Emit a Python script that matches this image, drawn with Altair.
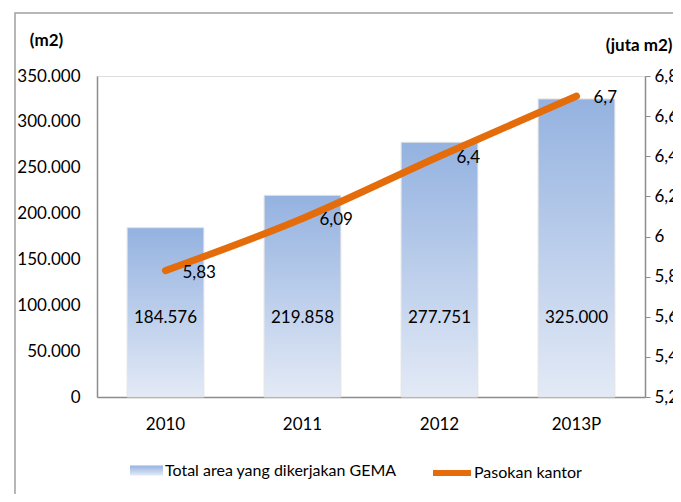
import altair as alt
import pandas as pd

years = ["2010", "2011", "2012", "2013P"]
area = [184576, 219858, 277751, 325000]
supply = [5.83, 6.09, 6.4, 6.7]
left_ticks = [0, 50000, 100000, 150000, 200000, 250000, 300000, 350000]
right_ticks = [5.2, 5.4, 5.6, 5.8, 6.0, 6.2, 6.4, 6.6, 6.8]
bar_name = "Total area yang dikerjakan GEMA"
line_name = "Pasokan kantor"

df = pd.DataFrame({
    "year": years,
    "area": area,
    "supply": supply,
    "s1": [bar_name] * len(years),
    "s2": [line_name] * len(years),
})

FONT = "Lato"
GRAY = "#8C8C8C"

base = alt.Chart(df).transform_calculate(
    area_lbl="replace(format(datum.area, ','), ',', '.')",
    supply_lbl="replace(format(datum.supply, '.2~f'), '.', ',')",
).encode(
    x=alt.X("year:N", sort=years,
            scale=alt.Scale(paddingInner=0.44, paddingOuter=0.22),
            axis=alt.Axis(title=None, labelAngle=0, ticks=False, domainColor=GRAY,
                          domainWidth=1.5, labelPadding=19, labelFontSize=17,
                          labelColor="black", labelFont=FONT))
)

gradient = alt.LinearGradient(
    gradient="linear",
    stops=[alt.GradientStop(color="#94B2E0", offset=0),
           alt.GradientStop(color="#E3EAF6", offset=1)],
    x1=1, x2=1, y1=0, y2=1,
)

left_axis = alt.Axis(
    values=left_ticks, labelExpr="replace(format(datum.value, ','), ',', '.')",
    ticks=False, domainColor=GRAY, domainWidth=1.5, labelPadding=17, grid=False,
    labelFontSize=17, labelColor="black", labelFont=FONT,
    title="(m2)", titleAngle=0, titleX=-51, titleY=-36, titleAlign="center",
    titleBaseline="middle", titleFontWeight="bold", titleFontSize=17,
    titleFont=FONT, titleColor="black",
)

bars = base.mark_bar(fill=gradient, stroke="#E2E2E2", strokeWidth=1).encode(
    y=alt.Y("area:Q", scale=alt.Scale(domain=[0, 350000], nice=False), axis=left_axis),
    opacity=alt.Opacity("s1:N", scale=alt.Scale(range=[1]),
                        legend=alt.Legend(orient="none", legendX=33, legendY=378,
                                          title=None, symbolType="M-1,-0.3H1V0.3H-1Z",
                                          symbolSize=1089, symbolFillColor="#C9D8F0",
                                          symbolStrokeColor="#C9D8F0", symbolStrokeWidth=0,
                                          labelFontSize=16, labelFont=FONT, labelLimit=0,
                                          labelColor="black", labelOffset=2, padding=0)),
)

bar_labels = base.mark_text(fontSize=17, font=FONT, color="black", baseline="middle").encode(
    y=alt.datum(86000),
    text="area_lbl:N",
)

right_axis = alt.Axis(
    orient="right", values=right_ticks,
    labelExpr="replace(format(datum.value, '.2~f'), '.', ',')",
    ticks=True, tickSize=5, tickColor=GRAY, domainColor=GRAY, domainWidth=1.5,
    labelPadding=4, grid=False, labelFontSize=17, labelColor="black", labelFont=FONT,
    title="(juta m2)", titleAngle=0, titleX=27, titleY=-31, titleAlign="right",
    titleBaseline="middle", titleFontWeight="bold", titleFontSize=17,
    titleFont=FONT, titleColor="black",
)

line = base.mark_line(strokeWidth=7, interpolate="monotone", strokeCap="round").encode(
    y=alt.Y("supply:Q", scale=alt.Scale(domain=[5.2, 6.8], nice=False, zero=False),
            axis=right_axis),
    color=alt.Color("s2:N", scale=alt.Scale(range=["#E46C0A"]),
                    legend=alt.Legend(orient="none", legendX=333, legendY=375,
                                      title=None, symbolType="stroke", symbolSize=1444,
                                      symbolStrokeWidth=6, labelFontSize=16,
                                      labelFont=FONT, labelColor="black", labelLimit=0,
                                      labelOffset=0, padding=0)),
)

line_labels = base.mark_text(align="left", dx=17, dy=2, fontSize=17, font=FONT,
                             color="black", baseline="middle").encode(
    y=alt.Y("supply:Q"),
    text="supply_lbl:N",
)

frame = alt.Chart(alt.Data(values=[{"a": 1}])).mark_rect(
    fillOpacity=0, stroke="#A0A0A0", strokeWidth=1.5
).encode(
    x=alt.value(-82), x2=alt.value(640), y=alt.value(-63), y2=alt.value(460)
)

chart = alt.layer(
    frame,
    alt.layer(bars, bar_labels),
    alt.layer(line, line_labels),
).resolve_scale(y="independent").properties(
    width=548, height=321,
    autosize=alt.AutoSizeParams(type="none"),
    padding={"left": 89, "top": 68, "right": 28, "bottom": 97},
).configure_view(stroke=None).configure(font=FONT)

chart.save("out.html", embed_options={"renderer": "svg", "actions": False})
